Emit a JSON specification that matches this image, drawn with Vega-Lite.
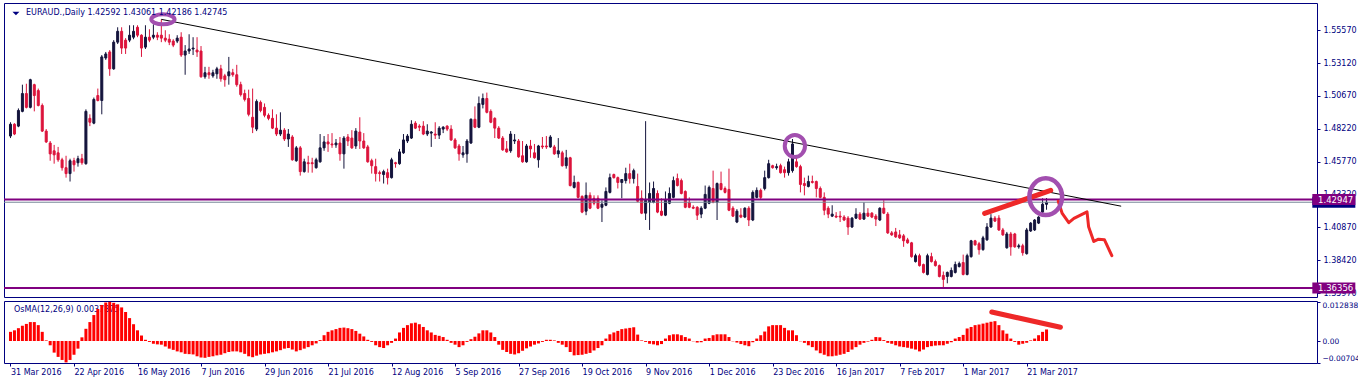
{
"$schema":"https://vega.github.io/schema/vega-lite/v6.json",
"background":"white",
"padding":{"left":2,"top":2,"right":0,"bottom":0},
"spacing":2,
"config":{"view":{"stroke":"#000080","strokeWidth":1},"font":"DejaVu Sans","axis":{"labelFont":"DejaVu Sans","labelFontSize":8,"labelColor":"#000080","tickColor":"#000080","tickSize":3,"domain":false,"grid":false,"labelPadding":3,"labelOverlap":false}},
"datasets":{
"k":[
{"i":0,"o":1.4768,"h":1.4871,"l":1.4753,"c":1.4856,"m":0.0030},
{"i":1,"o":1.4856,"h":1.4864,"l":1.4775,"c":1.4783,"m":0.0035},
{"i":2,"o":1.4842,"h":1.4974,"l":1.4834,"c":1.4959,"m":0.0042},
{"i":3,"o":1.4952,"h":1.5151,"l":1.4945,"c":1.5085,"m":0.0050},
{"i":4,"o":1.5085,"h":1.5158,"l":1.4974,"c":1.4982,"m":0.0056},
{"i":5,"o":1.4982,"h":1.5195,"l":1.4974,"c":1.5188,"m":0.0062},
{"i":6,"o":1.5151,"h":1.5158,"l":1.4952,"c":1.5070,"m":0.0062},
{"i":7,"o":1.5107,"h":1.5122,"l":1.4989,"c":1.4996,"m":0.0052},
{"i":8,"o":1.4996,"h":1.5011,"l":1.4798,"c":1.4805,"m":0.0030},
{"i":9,"o":1.4805,"h":1.4820,"l":1.4716,"c":1.4724,"m":0.0002},
{"i":10,"o":1.4716,"h":1.4731,"l":1.4584,"c":1.4635,"m":-0.0014},
{"i":11,"o":1.4658,"h":1.4702,"l":1.4562,"c":1.4628,"m":-0.0038},
{"i":12,"o":1.4643,"h":1.4687,"l":1.4576,"c":1.4591,"m":-0.0052},
{"i":13,"o":1.4591,"h":1.4606,"l":1.4510,"c":1.4532,"m":-0.0062},
{"i":14,"o":1.4532,"h":1.4621,"l":1.4458,"c":1.4488,"m":-0.0070},
{"i":15,"o":1.4488,"h":1.4599,"l":1.4429,"c":1.4584,"m":-0.0062},
{"i":16,"o":1.4584,"h":1.4606,"l":1.4503,"c":1.4554,"m":-0.0045},
{"i":17,"o":1.4569,"h":1.4621,"l":1.4540,"c":1.4599,"m":-0.0025},
{"i":18,"o":1.4599,"h":1.4635,"l":1.4554,"c":1.4569,"m":0.0012},
{"i":19,"o":1.4562,"h":1.4967,"l":1.4554,"c":1.4952,"m":0.0040},
{"i":20,"o":1.4900,"h":1.4930,"l":1.4842,"c":1.4871,"m":0.0062},
{"i":21,"o":1.4864,"h":1.5055,"l":1.4856,"c":1.5041,"m":0.0085},
{"i":22,"o":1.5070,"h":1.5122,"l":1.5026,"c":1.5033,"m":0.0105},
{"i":23,"o":1.5033,"h":1.5372,"l":1.4930,"c":1.5358,"m":0.0118},
{"i":24,"o":1.5350,"h":1.5395,"l":1.5336,"c":1.5380,"m":0.0126},
{"i":25,"o":1.5395,"h":1.5409,"l":1.5217,"c":1.5269,"m":0.0128},
{"i":26,"o":1.5269,"h":1.5483,"l":1.5262,"c":1.5468,"m":0.0125},
{"i":27,"o":1.5468,"h":1.5579,"l":1.5454,"c":1.5549,"m":0.0120},
{"i":28,"o":1.5549,"h":1.5579,"l":1.5380,"c":1.5424,"m":0.0110},
{"i":29,"o":1.5483,"h":1.5498,"l":1.5380,"c":1.5424,"m":0.0095},
{"i":30,"o":1.5483,"h":1.5594,"l":1.5468,"c":1.5520,"m":0.0075},
{"i":31,"o":1.5505,"h":1.5594,"l":1.5490,"c":1.5549,"m":0.0055},
{"i":32,"o":1.5579,"h":1.5594,"l":1.5505,"c":1.5520,"m":0.0035},
{"i":33,"o":1.5520,"h":1.5527,"l":1.5358,"c":1.5424,"m":0.0018},
{"i":34,"o":1.5431,"h":1.5594,"l":1.5417,"c":1.5505,"m":0.0004},
{"i":35,"o":1.5505,"h":1.5564,"l":1.5468,"c":1.5483,"m":-0.0003},
{"i":36,"o":1.5505,"h":1.5601,"l":1.5490,"c":1.5520,"m":-0.0009},
{"i":37,"o":1.5520,"h":1.5542,"l":1.5483,"c":1.5505,"m":-0.0011},
{"i":38,"o":1.5520,"h":1.5638,"l":1.5468,"c":1.5498,"m":-0.0012},
{"i":39,"o":1.5498,"h":1.5557,"l":1.5468,"c":1.5483,"m":-0.0018},
{"i":40,"o":1.5490,"h":1.5527,"l":1.5446,"c":1.5468,"m":-0.0025},
{"i":41,"o":1.5476,"h":1.5490,"l":1.5431,"c":1.5446,"m":-0.0029},
{"i":42,"o":1.5476,"h":1.5520,"l":1.5461,"c":1.5498,"m":-0.0034},
{"i":43,"o":1.5505,"h":1.5542,"l":1.5358,"c":1.5372,"m":-0.0037},
{"i":44,"o":1.5372,"h":1.5446,"l":1.5225,"c":1.5402,"m":-0.0042},
{"i":45,"o":1.5402,"h":1.5527,"l":1.5380,"c":1.5417,"m":-0.0043},
{"i":46,"o":1.5417,"h":1.5505,"l":1.5372,"c":1.5424,"m":-0.0044},
{"i":47,"o":1.5409,"h":1.5505,"l":1.5358,"c":1.5395,"m":-0.0050},
{"i":48,"o":1.5402,"h":1.5439,"l":1.5203,"c":1.5210,"m":-0.0054},
{"i":49,"o":1.5210,"h":1.5284,"l":1.5195,"c":1.5240,"m":-0.0055},
{"i":50,"o":1.5240,"h":1.5284,"l":1.5195,"c":1.5225,"m":-0.0052},
{"i":51,"o":1.5217,"h":1.5262,"l":1.5203,"c":1.5240,"m":-0.0050},
{"i":52,"o":1.5232,"h":1.5284,"l":1.5195,"c":1.5269,"m":-0.0047},
{"i":53,"o":1.5269,"h":1.5299,"l":1.5173,"c":1.5195,"m":-0.0045},
{"i":54,"o":1.5217,"h":1.5232,"l":1.5136,"c":1.5188,"m":-0.0040},
{"i":55,"o":1.5217,"h":1.5358,"l":1.5151,"c":1.5247,"m":-0.0036},
{"i":56,"o":1.5240,"h":1.5269,"l":1.5210,"c":1.5225,"m":-0.0034},
{"i":57,"o":1.5225,"h":1.5299,"l":1.5136,"c":1.5151,"m":-0.0034},
{"i":58,"o":1.5151,"h":1.5173,"l":1.5063,"c":1.5077,"m":-0.0037},
{"i":59,"o":1.5085,"h":1.5114,"l":1.5026,"c":1.5041,"m":-0.0042},
{"i":60,"o":1.5048,"h":1.5114,"l":1.4915,"c":1.4930,"m":-0.0050},
{"i":61,"o":1.4908,"h":1.5122,"l":1.4790,"c":1.4834,"m":-0.0053},
{"i":62,"o":1.4820,"h":1.5041,"l":1.4805,"c":1.5026,"m":-0.0048},
{"i":63,"o":1.5019,"h":1.5033,"l":1.4945,"c":1.4959,"m":-0.0044},
{"i":64,"o":1.4982,"h":1.5011,"l":1.4908,"c":1.4923,"m":-0.0042},
{"i":65,"o":1.4923,"h":1.4937,"l":1.4886,"c":1.4900,"m":-0.0040},
{"i":66,"o":1.4900,"h":1.4967,"l":1.4820,"c":1.4827,"m":-0.0037},
{"i":67,"o":1.4827,"h":1.4930,"l":1.4768,"c":1.4783,"m":-0.0034},
{"i":68,"o":1.4783,"h":1.4945,"l":1.4768,"c":1.4812,"m":-0.0030},
{"i":69,"o":1.4812,"h":1.4827,"l":1.4731,"c":1.4746,"m":-0.0025},
{"i":70,"o":1.4746,"h":1.4820,"l":1.4687,"c":1.4783,"m":-0.0023},
{"i":71,"o":1.4761,"h":1.4775,"l":1.4584,"c":1.4591,"m":-0.0028},
{"i":72,"o":1.4584,"h":1.4694,"l":1.4576,"c":1.4680,"m":-0.0034},
{"i":73,"o":1.4680,"h":1.4694,"l":1.4473,"c":1.4503,"m":-0.0030},
{"i":74,"o":1.4503,"h":1.4599,"l":1.4495,"c":1.4576,"m":-0.0025},
{"i":75,"o":1.4569,"h":1.4621,"l":1.4495,"c":1.4562,"m":-0.0020},
{"i":76,"o":1.4569,"h":1.4606,"l":1.4495,"c":1.4562,"m":-0.0014},
{"i":77,"o":1.4532,"h":1.4606,"l":1.4525,"c":1.4591,"m":-0.0008},
{"i":78,"o":1.4576,"h":1.4783,"l":1.4569,"c":1.4680,"m":0.0003},
{"i":79,"o":1.4680,"h":1.4768,"l":1.4658,"c":1.4724,"m":0.0019},
{"i":80,"o":1.4724,"h":1.4783,"l":1.4650,"c":1.4709,"m":0.0030},
{"i":81,"o":1.4709,"h":1.4790,"l":1.4680,"c":1.4702,"m":0.0035},
{"i":82,"o":1.4702,"h":1.4746,"l":1.4680,"c":1.4716,"m":0.0039},
{"i":83,"o":1.4716,"h":1.4761,"l":1.4584,"c":1.4635,"m":0.0043},
{"i":84,"o":1.4635,"h":1.4768,"l":1.4525,"c":1.4753,"m":0.0044},
{"i":85,"o":1.4761,"h":1.4783,"l":1.4694,"c":1.4731,"m":0.0042},
{"i":86,"o":1.4753,"h":1.4812,"l":1.4672,"c":1.4680,"m":0.0039},
{"i":87,"o":1.4694,"h":1.4827,"l":1.4672,"c":1.4805,"m":0.0033},
{"i":88,"o":1.4798,"h":1.4908,"l":1.4672,"c":1.4731,"m":0.0024},
{"i":89,"o":1.4731,"h":1.4790,"l":1.4672,"c":1.4680,"m":0.0015},
{"i":90,"o":1.4687,"h":1.4702,"l":1.4569,"c":1.4576,"m":0.0004},
{"i":91,"o":1.4584,"h":1.4599,"l":1.4488,"c":1.4547,"m":-0.0003},
{"i":92,"o":1.4540,"h":1.4599,"l":1.4429,"c":1.4488,"m":-0.0014},
{"i":93,"o":1.4495,"h":1.4510,"l":1.4429,"c":1.4488,"m":-0.0020},
{"i":94,"o":1.4481,"h":1.4517,"l":1.4414,"c":1.4503,"m":-0.0023},
{"i":95,"o":1.4495,"h":1.4525,"l":1.4407,"c":1.4458,"m":-0.0014},
{"i":96,"o":1.4458,"h":1.4606,"l":1.4451,"c":1.4591,"m":-0.0006},
{"i":97,"o":1.4569,"h":1.4576,"l":1.4532,"c":1.4562,"m":0.0008},
{"i":98,"o":1.4562,"h":1.4672,"l":1.4554,"c":1.4650,"m":0.0028},
{"i":99,"o":1.4643,"h":1.4783,"l":1.4635,"c":1.4739,"m":0.0043},
{"i":100,"o":1.4731,"h":1.4783,"l":1.4716,"c":1.4768,"m":0.0052},
{"i":101,"o":1.4753,"h":1.4886,"l":1.4746,"c":1.4856,"m":0.0058},
{"i":102,"o":1.4864,"h":1.4879,"l":1.4820,"c":1.4827,"m":0.0060},
{"i":103,"o":1.4842,"h":1.4856,"l":1.4805,"c":1.4834,"m":0.0055},
{"i":104,"o":1.4842,"h":1.4879,"l":1.4775,"c":1.4783,"m":0.0046},
{"i":105,"o":1.4783,"h":1.4856,"l":1.4768,"c":1.4805,"m":0.0035},
{"i":106,"o":1.4790,"h":1.4805,"l":1.4687,"c":1.4798,"m":0.0028},
{"i":107,"o":1.4783,"h":1.4871,"l":1.4746,"c":1.4775,"m":0.0020},
{"i":108,"o":1.4775,"h":1.4842,"l":1.4746,"c":1.4827,"m":0.0017},
{"i":109,"o":1.4820,"h":1.4842,"l":1.4790,"c":1.4834,"m":0.0013},
{"i":110,"o":1.4842,"h":1.4849,"l":1.4805,"c":1.4820,"m":0.0004},
{"i":111,"o":1.4820,"h":1.4849,"l":1.4731,"c":1.4739,"m":-0.0006},
{"i":112,"o":1.4739,"h":1.4753,"l":1.4672,"c":1.4680,"m":-0.0012},
{"i":113,"o":1.4694,"h":1.4709,"l":1.4584,"c":1.4635,"m":-0.0020},
{"i":114,"o":1.4628,"h":1.4694,"l":1.4606,"c":1.4643,"m":-0.0014},
{"i":115,"o":1.4635,"h":1.4746,"l":1.4569,"c":1.4731,"m":-0.0003},
{"i":116,"o":1.4716,"h":1.4900,"l":1.4709,"c":1.4893,"m":0.0006},
{"i":117,"o":1.4893,"h":1.4989,"l":1.4827,"c":1.4834,"m":0.0014},
{"i":118,"o":1.4834,"h":1.5063,"l":1.4827,"c":1.5011,"m":0.0025},
{"i":119,"o":1.5004,"h":1.5085,"l":1.4974,"c":1.5048,"m":0.0035},
{"i":120,"o":1.5048,"h":1.5092,"l":1.4937,"c":1.4945,"m":0.0035},
{"i":121,"o":1.4952,"h":1.4967,"l":1.4864,"c":1.4871,"m":0.0028},
{"i":122,"o":1.4900,"h":1.4908,"l":1.4753,"c":1.4827,"m":0.0013},
{"i":123,"o":1.4827,"h":1.4842,"l":1.4746,"c":1.4753,"m":-0.0012},
{"i":124,"o":1.4753,"h":1.4768,"l":1.4658,"c":1.4665,"m":-0.0029},
{"i":125,"o":1.4672,"h":1.4731,"l":1.4643,"c":1.4650,"m":-0.0036},
{"i":126,"o":1.4658,"h":1.4805,"l":1.4643,"c":1.4783,"m":-0.0042},
{"i":127,"o":1.4731,"h":1.4783,"l":1.4709,"c":1.4739,"m":-0.0044},
{"i":128,"o":1.4731,"h":1.4746,"l":1.4606,"c":1.4613,"m":-0.0040},
{"i":129,"o":1.4621,"h":1.4731,"l":1.4569,"c":1.4576,"m":-0.0032},
{"i":130,"o":1.4576,"h":1.4709,"l":1.4569,"c":1.4694,"m":-0.0024},
{"i":131,"o":1.4694,"h":1.4739,"l":1.4606,"c":1.4672,"m":-0.0018},
{"i":132,"o":1.4643,"h":1.4709,"l":1.4599,"c":1.4606,"m":-0.0012},
{"i":133,"o":1.4591,"h":1.4702,"l":1.4532,"c":1.4694,"m":-0.0008},
{"i":134,"o":1.4694,"h":1.4761,"l":1.4672,"c":1.4687,"m":-0.0003},
{"i":135,"o":1.4694,"h":1.4768,"l":1.4672,"c":1.4687,"m":0.0004},
{"i":136,"o":1.4687,"h":1.4775,"l":1.4680,"c":1.4761,"m":0.0004},
{"i":137,"o":1.4687,"h":1.4702,"l":1.4628,"c":1.4635,"m":0.0002},
{"i":138,"o":1.4635,"h":1.4753,"l":1.4606,"c":1.4658,"m":-0.0006},
{"i":139,"o":1.4643,"h":1.4658,"l":1.4540,"c":1.4547,"m":-0.0012},
{"i":140,"o":1.4547,"h":1.4665,"l":1.4525,"c":1.4606,"m":-0.0020},
{"i":141,"o":1.4606,"h":1.4613,"l":1.4392,"c":1.4399,"m":-0.0036},
{"i":142,"o":1.4385,"h":1.4473,"l":1.4377,"c":1.4422,"m":-0.0047},
{"i":143,"o":1.4422,"h":1.4429,"l":1.4304,"c":1.4311,"m":-0.0046},
{"i":144,"o":1.4318,"h":1.4326,"l":1.4193,"c":1.4201,"m":-0.0045},
{"i":145,"o":1.4208,"h":1.4422,"l":1.4178,"c":1.4326,"m":-0.0042},
{"i":146,"o":1.4326,"h":1.4348,"l":1.4223,"c":1.4230,"m":-0.0039},
{"i":147,"o":1.4304,"h":1.4326,"l":1.4252,"c":1.4267,"m":-0.0031},
{"i":148,"o":1.4304,"h":1.4326,"l":1.4223,"c":1.4230,"m":-0.0023},
{"i":149,"o":1.4237,"h":1.4289,"l":1.4127,"c":1.4260,"m":-0.0014},
{"i":150,"o":1.4252,"h":1.4385,"l":1.4245,"c":1.4355,"m":0.0008},
{"i":151,"o":1.4348,"h":1.4488,"l":1.4340,"c":1.4458,"m":0.0022},
{"i":152,"o":1.4481,"h":1.4488,"l":1.4451,"c":1.4458,"m":0.0028},
{"i":153,"o":1.4458,"h":1.4466,"l":1.4377,"c":1.4422,"m":0.0033},
{"i":154,"o":1.4422,"h":1.4444,"l":1.4304,"c":1.4444,"m":0.0039},
{"i":155,"o":1.4436,"h":1.4532,"l":1.4414,"c":1.4488,"m":0.0041},
{"i":156,"o":1.4488,"h":1.4562,"l":1.4414,"c":1.4451,"m":0.0043},
{"i":157,"o":1.4451,"h":1.4525,"l":1.4414,"c":1.4510,"m":0.0045},
{"i":158,"o":1.4392,"h":1.4488,"l":1.4274,"c":1.4282,"m":0.0021},
{"i":159,"o":1.4304,"h":1.4363,"l":1.4186,"c":1.4193,"m":0.0002},
{"i":160,"o":1.4193,"h":1.4879,"l":1.4142,"c":1.4289,"m":-0.0003},
{"i":161,"o":1.4274,"h":1.4422,"l":1.4068,"c":1.4340,"m":-0.0009},
{"i":162,"o":1.4274,"h":1.4429,"l":1.4267,"c":1.4377,"m":-0.0011},
{"i":163,"o":1.4340,"h":1.4363,"l":1.4193,"c":1.4201,"m":-0.0014},
{"i":164,"o":1.4208,"h":1.4304,"l":1.4171,"c":1.4178,"m":-0.0010},
{"i":165,"o":1.4178,"h":1.4355,"l":1.4171,"c":1.4289,"m":0.0008},
{"i":166,"o":1.4267,"h":1.4385,"l":1.4260,"c":1.4340,"m":0.0019},
{"i":167,"o":1.4311,"h":1.4466,"l":1.4304,"c":1.4436,"m":0.0022},
{"i":168,"o":1.4451,"h":1.4488,"l":1.4392,"c":1.4399,"m":0.0022},
{"i":169,"o":1.4436,"h":1.4451,"l":1.4333,"c":1.4340,"m":0.0019},
{"i":170,"o":1.4355,"h":1.4363,"l":1.4230,"c":1.4237,"m":0.0013},
{"i":171,"o":1.4274,"h":1.4311,"l":1.4230,"c":1.4237,"m":0.0008},
{"i":172,"o":1.4237,"h":1.4252,"l":1.4223,"c":1.4230,"m":-0.0001},
{"i":173,"o":1.4237,"h":1.4245,"l":1.4142,"c":1.4178,"m":-0.0005},
{"i":174,"o":1.4186,"h":1.4245,"l":1.4156,"c":1.4230,"m":-0.0004},
{"i":175,"o":1.4230,"h":1.4399,"l":1.4223,"c":1.4333,"m":0.0008},
{"i":176,"o":1.4267,"h":1.4399,"l":1.4260,"c":1.4385,"m":0.0010},
{"i":177,"o":1.4377,"h":1.4510,"l":1.4267,"c":1.4274,"m":0.0019},
{"i":178,"o":1.4274,"h":1.4422,"l":1.4142,"c":1.4414,"m":0.0022},
{"i":179,"o":1.4414,"h":1.4503,"l":1.4363,"c":1.4370,"m":0.0022},
{"i":180,"o":1.4377,"h":1.4392,"l":1.4340,"c":1.4348,"m":0.0022},
{"i":181,"o":1.4370,"h":1.4525,"l":1.4208,"c":1.4215,"m":0.0013},
{"i":182,"o":1.4230,"h":1.4245,"l":1.4164,"c":1.4171,"m":-0.0001},
{"i":183,"o":1.4127,"h":1.4223,"l":1.4119,"c":1.4208,"m":-0.0005},
{"i":184,"o":1.4178,"h":1.4230,"l":1.4156,"c":1.4164,"m":-0.0010},
{"i":185,"o":1.4164,"h":1.4237,"l":1.4156,"c":1.4230,"m":-0.0014},
{"i":186,"o":1.4230,"h":1.4245,"l":1.4097,"c":1.4142,"m":-0.0017},
{"i":187,"o":1.4142,"h":1.4363,"l":1.4134,"c":1.4348,"m":-0.0004},
{"i":188,"o":1.4311,"h":1.4385,"l":1.4304,"c":1.4363,"m":0.0008},
{"i":189,"o":1.4363,"h":1.4377,"l":1.4296,"c":1.4311,"m":0.0019},
{"i":190,"o":1.4377,"h":1.4510,"l":1.4363,"c":1.4458,"m":0.0031},
{"i":191,"o":1.4458,"h":1.4591,"l":1.4451,"c":1.4562,"m":0.0048},
{"i":192,"o":1.4547,"h":1.4554,"l":1.4525,"c":1.4532,"m":0.0052},
{"i":193,"o":1.4532,"h":1.4562,"l":1.4517,"c":1.4540,"m":0.0052},
{"i":194,"o":1.4547,"h":1.4562,"l":1.4488,"c":1.4495,"m":0.0052},
{"i":195,"o":1.4517,"h":1.4540,"l":1.4458,"c":1.4495,"m":0.0043},
{"i":196,"o":1.4495,"h":1.4599,"l":1.4473,"c":1.4576,"m":0.0035},
{"i":197,"o":1.4510,"h":1.4746,"l":1.4495,"c":1.4709,"m":0.0035},
{"i":198,"o":1.4576,"h":1.4621,"l":1.4532,"c":1.4540,"m":0.0019},
{"i":199,"o":1.4540,"h":1.4554,"l":1.4348,"c":1.4407,"m":-0.0001},
{"i":200,"o":1.4414,"h":1.4458,"l":1.4326,"c":1.4399,"m":-0.0006},
{"i":201,"o":1.4392,"h":1.4473,"l":1.4385,"c":1.4429,"m":-0.0014},
{"i":202,"o":1.4429,"h":1.4473,"l":1.4414,"c":1.4422,"m":-0.0020},
{"i":203,"o":1.4429,"h":1.4436,"l":1.4311,"c":1.4377,"m":-0.0031},
{"i":204,"o":1.4377,"h":1.4392,"l":1.4304,"c":1.4311,"m":-0.0040},
{"i":205,"o":1.4311,"h":1.4348,"l":1.4178,"c":1.4215,"m":-0.0045},
{"i":206,"o":1.4230,"h":1.4245,"l":1.4156,"c":1.4186,"m":-0.0050},
{"i":207,"o":1.4171,"h":1.4252,"l":1.4164,"c":1.4186,"m":-0.0050},
{"i":208,"o":1.4171,"h":1.4201,"l":1.4156,"c":1.4164,"m":-0.0048},
{"i":209,"o":1.4171,"h":1.4208,"l":1.4127,"c":1.4164,"m":-0.0045},
{"i":210,"o":1.4164,"h":1.4178,"l":1.4134,"c":1.4142,"m":-0.0042},
{"i":211,"o":1.4156,"h":1.4171,"l":1.4031,"c":1.4090,"m":-0.0036},
{"i":212,"o":1.4090,"h":1.4164,"l":1.4083,"c":1.4156,"m":-0.0028},
{"i":213,"o":1.4156,"h":1.4230,"l":1.4149,"c":1.4186,"m":-0.0020},
{"i":214,"o":1.4186,"h":1.4201,"l":1.4142,"c":1.4149,"m":-0.0012},
{"i":215,"o":1.4149,"h":1.4274,"l":1.4142,"c":1.4193,"m":-0.0006},
{"i":216,"o":1.4193,"h":1.4230,"l":1.4164,"c":1.4171,"m":-0.0002},
{"i":217,"o":1.4193,"h":1.4201,"l":1.4156,"c":1.4164,"m":0.0004},
{"i":218,"o":1.4171,"h":1.4186,"l":1.4097,"c":1.4149,"m":0.0013},
{"i":219,"o":1.4142,"h":1.4237,"l":1.4134,"c":1.4230,"m":0.0012},
{"i":220,"o":1.4230,"h":1.4289,"l":1.4186,"c":1.4193,"m":0.0003},
{"i":221,"o":1.4186,"h":1.4201,"l":1.4038,"c":1.4046,"m":-0.0006},
{"i":222,"o":1.4046,"h":1.4060,"l":1.4024,"c":1.4031,"m":-0.0009},
{"i":223,"o":1.4053,"h":1.4083,"l":1.4009,"c":1.4016,"m":-0.0014},
{"i":224,"o":1.4031,"h":1.4068,"l":1.4001,"c":1.4009,"m":-0.0018},
{"i":225,"o":1.4024,"h":1.4038,"l":1.3942,"c":1.3987,"m":-0.0020},
{"i":226,"o":1.3994,"h":1.4009,"l":1.3965,"c":1.3972,"m":-0.0022},
{"i":227,"o":1.3972,"h":1.3979,"l":1.3861,"c":1.3869,"m":-0.0025},
{"i":228,"o":1.3832,"h":1.3891,"l":1.3825,"c":1.3876,"m":-0.0028},
{"i":229,"o":1.3876,"h":1.3891,"l":1.3795,"c":1.3802,"m":-0.0034},
{"i":230,"o":1.3810,"h":1.3817,"l":1.3743,"c":1.3751,"m":-0.0028},
{"i":231,"o":1.3736,"h":1.3891,"l":1.3729,"c":1.3876,"m":-0.0020},
{"i":232,"o":1.3869,"h":1.3898,"l":1.3825,"c":1.3832,"m":-0.0017},
{"i":233,"o":1.3832,"h":1.3847,"l":1.3795,"c":1.3802,"m":-0.0015},
{"i":234,"o":1.3802,"h":1.3810,"l":1.3714,"c":1.3721,"m":-0.0014},
{"i":235,"o":1.3729,"h":1.3758,"l":1.3633,"c":1.3699,"m":-0.0014},
{"i":236,"o":1.3721,"h":1.3758,"l":1.3670,"c":1.3751,"m":-0.0009},
{"i":237,"o":1.3721,"h":1.3788,"l":1.3714,"c":1.3766,"m":-0.0004},
{"i":238,"o":1.3751,"h":1.3832,"l":1.3743,"c":1.3810,"m":0.0008},
{"i":239,"o":1.3795,"h":1.3832,"l":1.3788,"c":1.3817,"m":0.0013},
{"i":240,"o":1.3825,"h":1.3884,"l":1.3729,"c":1.3736,"m":0.0020},
{"i":241,"o":1.3736,"h":1.3891,"l":1.3729,"c":1.3876,"m":0.0041},
{"i":242,"o":1.3869,"h":1.3994,"l":1.3861,"c":1.3987,"m":0.0046},
{"i":243,"o":1.3987,"h":1.3994,"l":1.3950,"c":1.3957,"m":0.0052},
{"i":244,"o":1.3965,"h":1.3979,"l":1.3884,"c":1.3921,"m":0.0054},
{"i":245,"o":1.3921,"h":1.4024,"l":1.3913,"c":1.4009,"m":0.0057},
{"i":246,"o":1.3994,"h":1.4119,"l":1.3987,"c":1.4090,"m":0.0060},
{"i":247,"o":1.4090,"h":1.4186,"l":1.4083,"c":1.4156,"m":0.0063},
{"i":248,"o":1.4156,"h":1.4171,"l":1.4127,"c":1.4134,"m":0.0065},
{"i":249,"o":1.4156,"h":1.4178,"l":1.4060,"c":1.4068,"m":0.0052},
{"i":250,"o":1.4068,"h":1.4083,"l":1.4024,"c":1.4031,"m":0.0035},
{"i":251,"o":1.3935,"h":1.4053,"l":1.3928,"c":1.4038,"m":0.0024},
{"i":252,"o":1.4038,"h":1.4053,"l":1.3876,"c":1.3942,"m":0.0008},
{"i":253,"o":1.4038,"h":1.4046,"l":1.3935,"c":1.3942,"m":-0.0003},
{"i":254,"o":1.3942,"h":1.3965,"l":1.3928,"c":1.3950,"m":-0.0012},
{"i":255,"o":1.3950,"h":1.3965,"l":1.3876,"c":1.3898,"m":-0.0009},
{"i":256,"o":1.3891,"h":1.4083,"l":1.3884,"c":1.4068,"m":-0.0006},
{"i":257,"o":1.4060,"h":1.4127,"l":1.4053,"c":1.4119,"m":0.0002},
{"i":258,"o":1.4068,"h":1.4149,"l":1.4060,"c":1.4142,"m":0.0008},
{"i":259,"o":1.4119,"h":1.4171,"l":1.4112,"c":1.4164,"m":0.0019},
{"i":260,"o":1.4201,"h":1.4304,"l":1.4193,"c":1.4260,"m":0.0030},
{"i":261,"o":1.42592,"h":1.43061,"l":1.42186,"c":1.42745,"m":0.0037875}
],
"lv":[{"p":1.42745,"k":"bid","t":"1.42745"},{"p":1.42947,"k":"hl","t":"1.42947"},{"p":1.36356,"k":"hl","t":"1.36356"}],
"tl":[{"i":38,"p":1.5638},{"i":279.8,"p":1.4245}],
"ra":[{"i":245.4,"p":1.4191},{"i":262.05,"p":1.4363}],
"rb":[{"n":0,"i":263.95,"p":1.4282},{"n":1,"i":264.95,"p":1.4191},{"n":2,"i":266.6,"p":1.4122},{"n":3,"i":267.9,"p":1.4154},{"n":4,"i":271.2,"p":1.4203},{"n":5,"i":271.6,"p":1.4092},{"n":6,"i":272.9,"p":1.3982},{"n":7,"i":274.1,"p":1.3999},{"n":8,"i":275.6,"p":1.3994},{"n":9,"i":277.45,"p":1.3876}],
"rc":[{"i":247.2,"v":0.0095},{"i":264.5,"v":0.0045}],
"el":[{"k":"a","i":38.4,"p":1.5638},{"k":"b","i":197.6,"p":1.4694},{"k":"c","i":260.8,"p":1.4316}],
"tx":[{"t":"EURAUD.,Daily  1.42592 1.43061 1.42186 1.42745","o":"OsMA(12,26,9) 0.0037875"}]
},
"vconcat":[
{
"width":1313,"height":294,
"layer":[
{"data":{"name":"k"},"mark":{"type":"rule","strokeWidth":1},
 "encoding":{
  "x":{"field":"i","type":"quantitative","scale":{"domain":[-0.375,327.875],"nice":false,"zero":false},"axis":null},
  "y":{"field":"l","type":"quantitative","title":null,"scale":{"domain":[1.3568,1.5760],"nice":false,"zero":false},
       "axis":{"orient":"right","values":[1.5557,1.5312,1.5067,1.4822,1.4577,1.4332,1.4087,1.3842,1.3597],"tickCount":20,"format":".5f","labelPadding":3,"tickSize":3,"labelOverlap":false}},
  "y2":{"field":"h"},
  "color":{"condition":{"test":"datum.c >= datum.o","value":"#14143C"},"value":"#DC143C"}}},
{"data":{"name":"k"},"mark":{"type":"bar","width":2,"strokeWidth":1},
 "encoding":{
  "x":{"field":"i","type":"quantitative"},
  "y":{"field":"o","type":"quantitative","title":null},
  "y2":{"field":"c"},
  "fill":{"condition":{"test":"datum.c >= datum.o","value":"#14143C"},"value":"#DC143C"},
  "stroke":{"condition":{"test":"datum.c >= datum.o","value":"#14143C"},"value":"#DC143C"}}},
{"data":{"name":"lv"},"transform":[{"filter":"datum.k == 'bid'"}],"mark":{"type":"rule","color":"#778899","strokeWidth":1},
 "encoding":{"y":{"field":"p","type":"quantitative","title":null}}},
{"data":{"name":"lv"},"transform":[{"filter":"datum.k == 'hl'"}],"mark":{"type":"rule","color":"#800080","strokeWidth":2},
 "encoding":{"y":{"field":"p","type":"quantitative","title":null}}},
{"data":{"name":"tl"},"mark":{"type":"line","color":"#000000","strokeWidth":1},
 "encoding":{"x":{"field":"i","type":"quantitative"},"y":{"field":"p","type":"quantitative","title":null}}},
{"data":{"name":"ra"},"mark":{"type":"line","color":"#EE2828","strokeWidth":5,"strokeCap":"round"},
 "encoding":{"x":{"field":"i","type":"quantitative"},"y":{"field":"p","type":"quantitative","title":null}}},
{"data":{"name":"rb"},"mark":{"type":"line","color":"#EE2828","strokeWidth":3,"strokeCap":"round","strokeJoin":"round"},
 "encoding":{"x":{"field":"i","type":"quantitative"},"y":{"field":"p","type":"quantitative","title":null},"order":{"field":"n","type":"quantitative"}}},
{"data":{"name":"el"},"transform":[{"filter":"datum.k == 'a'"}],"mark":{"type":"point","shape":"M -1 0 A 1 0.43 0 1 0 1 0 A 1 0.43 0 1 0 -1 0 Z","size":543,"filled":false,"color":"#A24FAF","strokeWidth":4,"opacity":1},
 "encoding":{"x":{"field":"i","type":"quantitative"},"y":{"field":"p","type":"quantitative","title":null}}},
{"data":{"name":"el"},"transform":[{"filter":"datum.k == 'b'"}],"mark":{"type":"point","shape":"M -0.92 0 A 0.92 1 0 1 0 0.92 0 A 0.92 1 0 1 0 -0.92 0 Z","size":484,"filled":false,"color":"#A24FAF","strokeWidth":4,"opacity":1},
 "encoding":{"x":{"field":"i","type":"quantitative"},"y":{"field":"p","type":"quantitative","title":null}}},
{"data":{"name":"el"},"transform":[{"filter":"datum.k == 'c'"}],"mark":{"type":"point","shape":"M -0.89 0 A 0.89 1 0 1 0 0.89 0 A 0.89 1 0 1 0 -0.89 0 Z","size":1347,"filled":false,"color":"#A24FAF","strokeWidth":4.5,"opacity":1},
 "encoding":{"x":{"field":"i","type":"quantitative"},"y":{"field":"p","type":"quantitative","title":null}}},
{"data":{"name":"tx"},"mark":{"type":"point","shape":"M -1 -0.5 L 1 -0.5 L 0 0.5 Z","size":49,"filled":true,"color":"#000080","opacity":1},
 "encoding":{"x":{"datum":1.375,"type":"quantitative"},"y":{"datum":1.5682,"type":"quantitative","title":null}}},
{"data":{"name":"tx"},"mark":{"type":"text","align":"left","baseline":"middle","font":"DejaVu Sans","fontSize":8,"color":"#000080"},
 "encoding":{"x":{"datum":3.9,"type":"quantitative"},"y":{"datum":1.5685,"type":"quantitative","title":null},"text":{"field":"t"}}},
{"data":{"name":"lv"},"transform":[{"filter":"datum.k == 'bid'"}],"mark":{"type":"tick","orient":"horizontal","size":43,"thickness":11,"color":"#000080","opacity":1},
 "encoding":{"x":{"datum":333.375,"type":"quantitative"},"y":{"field":"p","type":"quantitative","title":null}}},
{"data":{"name":"lv"},"transform":[{"filter":"datum.k == 'bid'"}],"mark":{"type":"text","align":"left","baseline":"middle","font":"DejaVu Sans","fontSize":8.5,"color":"#FFFFFF"},
 "encoding":{"x":{"datum":329.4,"type":"quantitative"},"y":{"field":"p","type":"quantitative","title":null},"text":{"field":"t"}}},
{"data":{"name":"lv"},"transform":[{"filter":"datum.k == 'hl'"}],"mark":{"type":"tick","orient":"horizontal","size":43,"thickness":11,"color":"#800080","opacity":1},
 "encoding":{"x":{"datum":333.375,"type":"quantitative"},"y":{"field":"p","type":"quantitative","title":null}}},
{"data":{"name":"lv"},"transform":[{"filter":"datum.k == 'hl'"}],"mark":{"type":"text","align":"left","baseline":"middle","font":"DejaVu Sans","fontSize":8.5,"color":"#FFFFFF"},
 "encoding":{"x":{"datum":329.4,"type":"quantitative"},"y":{"field":"p","type":"quantitative","title":null},"text":{"field":"t"}}}
]
},
{
"width":1313,"height":62,
"layer":[
{"data":{"name":"tx"},"mark":{"type":"text","align":"left","baseline":"middle","font":"DejaVu Sans","fontSize":8,"color":"#000080"},
 "encoding":{"x":{"datum":0.9,"type":"quantitative","title":null,"scale":{"domain":[-0.375,327.875],"nice":false,"zero":false}},"y":{"datum":0.0103,"type":"quantitative","title":null,"scale":{"domain":[-0.0072,0.0131],"nice":false,"zero":false}},"text":{"field":"o"}}},
{"data":{"name":"k"},"mark":{"type":"bar","width":3,"color":"#FF0000"},
 "encoding":{
  "x":{"field":"i","type":"quantitative","title":null,
       "axis":{"orient":"bottom","values":[0,16,32,48,64,80,96,112,128,144,160,176,192,208,224,240,256],"tickCount":40,
        "labelExpr":"['31 Mar 2016','22 Apr 2016','16 May 2016','7 Jun 2016','29 Jun 2016','21 Jul 2016','12 Aug 2016','5 Sep 2016','27 Sep 2016','19 Oct 2016','9 Nov 2016','1 Dec 2016','23 Dec 2016','16 Jan 2017','7 Feb 2017','1 Mar 2017','21 Mar 2017'][round(datum.value/16)]",
        "labelAlign":"left","labelBaseline":"top","labelPadding":2,"tickSize":3,"labelFlush":false,"labelOverlap":false,"labelBound":false}},
  "y":{"field":"m","type":"quantitative","title":null,
       "axis":{"orient":"right","values":[0.012838,0,-0.007044],"tickCount":10,"labelFontSize":7.5,"labelExpr":"datum.value == 0 ? '0.00' : format(datum.value, '.6f')","labelPadding":2,"tickSize":3,
        "labelBaseline":{"condition":{"test":"datum.value > 0.01","value":"top"},"value":"bottom"},
        "labelOffset":{"condition":{"test":"datum.value == 0","value":4},"value":0}}},
  "y2":{"datum":0}}},
{"data":{"name":"rc"},"mark":{"type":"line","color":"#EE2828","strokeWidth":5,"strokeCap":"round"},
 "encoding":{"x":{"field":"i","type":"quantitative"},"y":{"field":"v","type":"quantitative","title":null}}}
]
}
]
}
